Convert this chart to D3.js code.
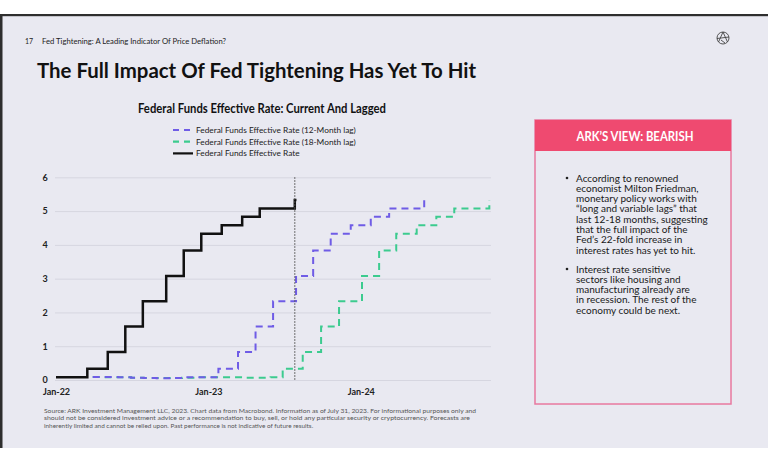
<!DOCTYPE html>
<html><head><meta charset="utf-8">
<script src="https://cdn.jsdelivr.net/npm/d3@7"></script>
<style>body{margin:0;background:#fff}svg{display:block;font-family:Lato,"Open Sans",sans-serif}</style>
</head><body><svg id="c" width="768" height="463"></svg>
<script>
// ---- data ----
const yTicks = [0,1,2,3,4,5,6];
const xTickDates = ["2022-01-01","2023-01-01","2024-01-01"];
const xTickLabels = ["Jan-22","Jan-23","Jan-24"];
const seriesNames = ["Federal Funds Effective Rate (12-Month lag)","Federal Funds Effective Rate (18-Month lag)","Federal Funds Effective Rate"];
const rateDates = ["2022-01-01","2022-03-17","2022-05-05","2022-06-16","2022-07-28","2022-09-22","2022-11-03","2022-12-15","2023-02-02","2023-03-23","2023-05-04","2023-07-27","2023-07-31"];
const rateValues = [0.08,0.33,0.83,1.58,2.33,3.08,3.83,4.33,4.58,4.83,5.08,5.33,5.33];
const lag12Dates = ["2022-03-30","2022-04-30","2022-05-30","2022-06-30","2022-07-30","2022-08-30","2022-09-30","2022-10-30","2022-11-30","2022-12-30","2023-01-25","2023-03-13","2023-04-24","2023-06-05","2023-07-30","2023-09-09","2023-10-21","2023-12-08","2024-01-25","2024-03-09","2024-06-01"];
const lag12Values = [0.09,0.09,0.08,0.07,0.06,0.05,0.06,0.08,0.08,0.08,0.33,0.83,1.58,2.33,3.08,3.83,4.33,4.58,4.83,5.08,5.33];
const lag18Dates = ["2022-03-30","2022-04-30","2022-05-30","2022-06-30","2022-07-30","2022-08-30","2022-09-30","2022-10-30","2022-11-30","2022-12-30","2023-01-30","2023-02-28","2023-03-30","2023-04-30","2023-05-30","2023-06-28","2023-08-15","2023-09-28","2023-11-10","2024-01-04","2024-02-14","2024-03-26","2024-05-14","2024-06-30","2024-08-12","2024-11-04"];
const lag18Values = [0.09,0.08,0.08,0.07,0.06,0.06,0.06,0.07,0.08,0.08,0.08,0.08,0.07,0.07,0.08,0.33,0.83,1.58,2.33,3.08,3.83,4.33,4.58,4.83,5.08,5.33];
const markerDate = "2023-07-27";

const bullet1 = ["According to renowned","economist Milton Friedman,","monetary policy works with","\u201Clong and variable lags\u201D that","last 12-18 months, suggesting","that the full impact of the","Fed\u2019s 22-fold increase in","interest rates has yet to hit."];
const bullet2 = ["Interest rate sensitive","sectors like housing and","manufacturing already are","in recession. The rest of the","economy could be next."];
const footer = ["Source: ARK Investment Management LLC, 2023. Chart data from Macrobond. Information as of July 31, 2023. For informational purposes only and","should not be considered investment advice or a recommendation to buy, sell, or hold any particular security or cryptocurrency. Forecasts are","inherently limited and cannot be relied upon. Past performance is not indicative of future results."];

// ---- drawing ----
const svg = d3.select("#c");
const parse = d3.timeParse("%Y-%m-%d");
const BG = "#e9e9f1";
svg.append("rect").attr("width",768).attr("height",463).attr("fill","#fff");
svg.append("rect").attr("x",0).attr("y",15).attr("width",768).attr("height",433).attr("fill",BG);
svg.append("rect").attr("x",0).attr("y",14).attr("width",768).attr("height",2.2).attr("fill","#2e2e2e");
svg.append("rect").attr("x",0).attr("y",14).attr("width",2.5).attr("height",434).attr("fill","#2e2e2e");

// header
svg.append("text").attr("x",25).attr("y",44).attr("font-size",7).attr("fill","#222").text("17");
svg.append("text").attr("x",42).attr("y",44).attr("font-size",7).attr("fill","#222").attr("textLength",184).attr("lengthAdjust","spacingAndGlyphs").text("Fed Tightening: A Leading Indicator Of Price Deflation?");
const logo = svg.append("g").attr("transform","translate(723,38)").attr("fill","none").attr("stroke","#444").attr("stroke-width",0.9);
logo.append("circle").attr("r",6);
logo.append("path").attr("d","M-4.5,4 L0,-6 L4.5,4 M-6,0.5 L6,-1 M-2,2 L2,5");

svg.append("text").attr("x",37).attr("y",78).attr("font-size",21.5).attr("font-weight",700).attr("fill","#111")
  .attr("textLength",439).attr("lengthAdjust","spacingAndGlyphs").text("The Full Impact Of Fed Tightening Has Yet To Hit");

// chart title
svg.append("text").attr("x",262).attr("y",113).attr("text-anchor","middle").attr("font-size",12.5).attr("font-weight",700).attr("fill","#111")
  .attr("textLength",248).attr("lengthAdjust","spacingAndGlyphs").text("Federal Funds Effective Rate: Current And Lagged");

const colors = ["#6f5ce6","#3ccb8f","#111"];
const dashes = ["7,5","7,5",null];
// legend
seriesNames.forEach((n,i)=>{
  const yy = 130 + i*11.7;
  const l = svg.append("line").attr("x1",173).attr("x2",193).attr("y1",yy).attr("y2",yy).attr("stroke",colors[i]).attr("stroke-width",2.2);
  if(dashes[i]) l.attr("stroke-dasharray","6,5");
  svg.append("text").attr("x",196).attr("y",yy+3).attr("font-size",8.3).attr("fill","#222").text(n);
});

const x = d3.scaleTime().domain([parse("2022-01-01"),parse("2024-11-08")]).range([56,491]);
const y = d3.scaleLinear().domain([0,6]).range([380,177.3]);

const ga = svg.append("g").attr("transform","translate(55,0)")
  .call(d3.axisLeft(y).tickValues(yTicks).tickSize(-436).tickFormat(d3.format("d")));
ga.select(".domain").remove();
ga.selectAll(".tick line").attr("stroke","#d6d6e0").attr("stroke-width",1);
ga.selectAll(".tick text").attr("x",-10).attr("text-anchor","middle").attr("font-size",9).attr("font-weight",700).attr("fill","#222").attr("font-family","Lato,sans-serif");

const gx = svg.append("g").attr("transform","translate(0,384)")
  .call(d3.axisBottom(x).tickValues(xTickDates.map(parse)).tickSize(0).tickFormat((d,i)=>xTickLabels[i]));
gx.select(".domain").remove();
gx.selectAll(".tick text").attr("dy","0.85em").attr("font-size",9).attr("font-weight",700).attr("fill","#222").attr("font-family","Lato,sans-serif");

const line = d3.line().x(d=>x(d[0])).y(d=>y(d[1])).curve(d3.curveStepAfter);
const mk = (ds,vs)=>ds.map((d,i)=>[parse(d),vs[i]]);
const data = [mk(lag12Dates,lag12Values), mk(lag18Dates,lag18Values), mk(rateDates,rateValues)];
[1,0,2].forEach(i=>{
  const p = svg.append("path").attr("d",line(data[i])).attr("fill","none").attr("stroke",colors[i])
    .attr("stroke-width",i===2?2.5:2).attr("stroke-linejoin","miter");
  if(dashes[i]) p.attr("stroke-dasharray",dashes[i]);
});
svg.append("line").attr("x1",x(parse(markerDate))).attr("x2",x(parse(markerDate))).attr("y1",y(6)).attr("y2",y(0))
  .attr("stroke","#555").attr("stroke-width",1.1).attr("stroke-dasharray","1.5,1.5");

// right box
svg.append("rect").attr("x",535).attr("y",120).attr("width",196).attr("height",284).attr("fill",BG).attr("stroke","#e8789f").attr("stroke-width",1.5);
svg.append("rect").attr("x",535).attr("y",120).attr("width",196).attr("height",31).attr("fill","#ef4a70");
svg.append("text").attr("x",635).attr("y",140.5).attr("text-anchor","middle").attr("font-size",12.5).attr("font-weight",700).attr("fill","#fff")
  .attr("textLength",117).attr("lengthAdjust","spacingAndGlyphs").text("ARK\u2019S VIEW: BEARISH");
function bullets(lines, y0){
  svg.append("circle").attr("cx",567).attr("cy",y0-3.5).attr("r",1.3).attr("fill","#222");
  const t = svg.append("text").attr("x",576).attr("y",y0).attr("font-size",10).attr("fill","#1a1a1a");
  lines.forEach((s,i)=>t.append("tspan").attr("x",576).attr("y",y0+i*10.3).text(s));
}
bullets(bullet1,181.5);
bullets(bullet2,272.5);

// footer
const ft = svg.append("text").attr("x",44).attr("y",413).attr("font-size",6.4).attr("fill","#555");
footer.forEach((s,i)=>{
  const ts = ft.append("tspan").attr("x",44).attr("y",413+i*7.3).text(s);
  if(i<2) ts.attr("textLength",i===0?432:426).attr("lengthAdjust","spacingAndGlyphs");
});
</script></body></html>
